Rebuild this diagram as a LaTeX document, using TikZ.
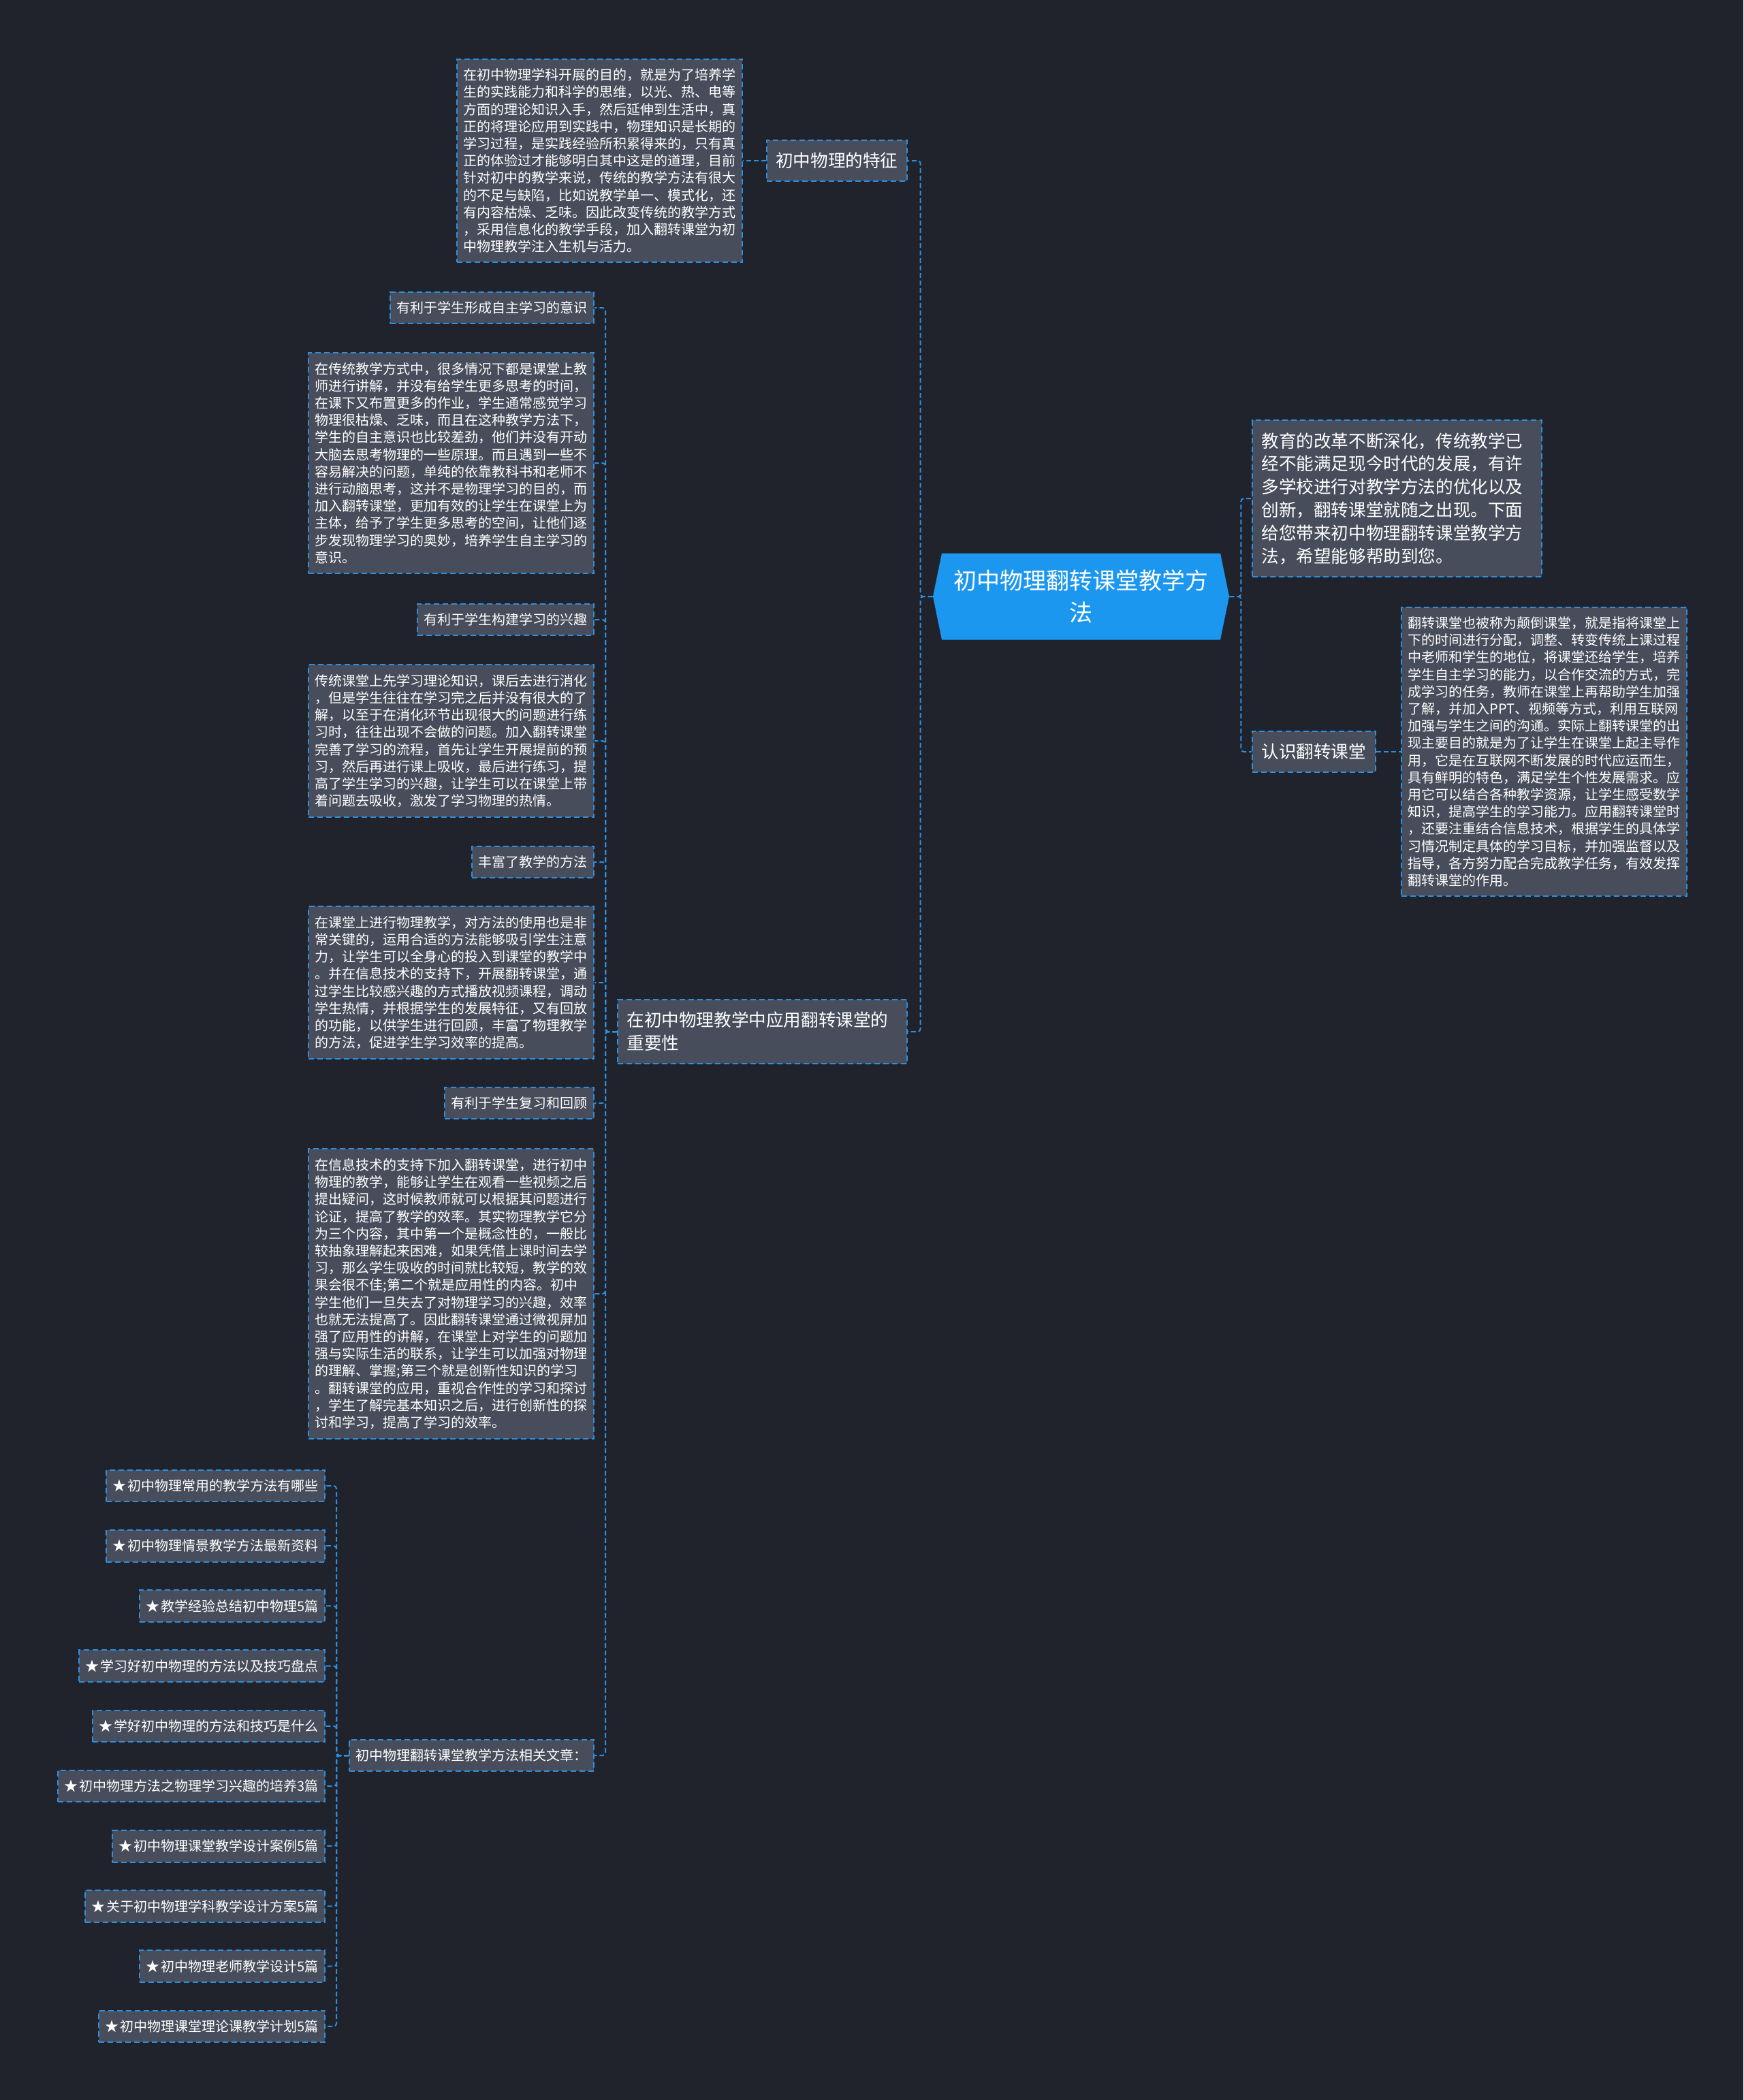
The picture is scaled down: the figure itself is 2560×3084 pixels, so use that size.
\documentclass[tikz,border=0pt]{standalone}
\usepackage{fontspec}
\setmainfont{Noto Sans CJK SC}
\usepackage{xcolor}
\usepackage{tikz}
\usetikzlibrary{positioning}

\definecolor{bgdark}{HTML}{20232C}
\definecolor{boxgray}{HTML}{474D5B}
\definecolor{dashblue}{HTML}{2D8FE0}
\definecolor{rootblue}{HTML}{1C97F0}

\begin{document}
\begin{tikzpicture}[
    x=0.5pt, y=-0.5pt,
    leaf/.style={draw=dashblue, fill=boxgray, line width=1pt, dash pattern=on 4pt off 2.5pt,
        text=white, inner xsep=4.75pt, inner ysep=7pt, font=\fontsize{10}{12.6}\selectfont},
    note/.style={leaf, text width=200pt, align=left},
    topic/.style={leaf, inner xsep=6.75pt, inner ysep=9pt, font=\fontsize{12.8}{16.9}\selectfont},
    topicnote/.style={topic, text width=199pt, align=left},
    mainbox/.style={fill=bgdark, minimum width=217.5pt, minimum height=63.5pt, inner sep=0pt,
        align=center, text=white, font=\fontsize{17}{23.5}\selectfont,
        path picture={\fill[rootblue] ([xshift=6.5pt]path picture bounding box.north west)
            -- ([xshift=-6.5pt]path picture bounding box.north east) -- (path picture bounding box.east)
            -- ([xshift=-6.5pt]path picture bounding box.south east)
            -- ([xshift=6.5pt]path picture bounding box.south west) -- (path picture bounding box.west) -- cycle;}},
    conn/.style={draw=dashblue, line width=1pt, dash pattern=on 3.5pt off 2pt, rounded corners=2pt}
]
\useasboundingbox (0,0) rectangle (2560,3084);
\fill[bgdark] (0,0) rectangle (2560,3084);

\node[mainbox] (root) at (1587.5,876) {初中物理翻转课堂教学方\\法};

\node[topicnote, anchor=west] (intro) at (1838,732) {教育的改革不断深化，传统教学已\\
经不能满足现今时代的发展，有许\\
多学校进行对教学方法的优化以及\\
创新，翻转课堂就随之出现。下面\\
给您带来初中物理翻转课堂教学方\\
法，希望能够帮助到您。};
\node[topic, anchor=west] (know) at (1838,1104) {认识翻转课堂};
\node[note, anchor=west] (detail) at (2057,1104) {翻转课堂也被称为颠倒课堂，就是指将课堂上\\
下的时间进行分配，调整、转变传统上课过程\\
中老师和学生的地位，将课堂还给学生，培养\\
学生自主学习的能力，以合作交流的方式，完\\
成学习的任务，教师在课堂上再帮助学生加强\\
了解，并加入PPT、视频等方式，利用互联网\\
加强与学生之间的沟通。实际上翻转课堂的出\\
现主要目的就是为了让学生在课堂上起主导作\\
用，它是在互联网不断发展的时代应运而生，\\
具有鲜明的特色，满足学生个性发展需求。应\\
用它可以结合各种教学资源，让学生感受数学\\
知识，提高学生的学习能力。应用翻转课堂时\\
，还要注重结合信息技术，根据学生的具体学\\
习情况制定具体的学习目标，并加强监督以及\\
指导，各方努力配合完成教学任务，有效发挥\\
翻转课堂的作用。};

\node[topic, anchor=east] (feature) at (1333,236) {初中物理的特征};
\node[note, anchor=east] (featnote) at (1091,236) {在初中物理学科开展的目的，就是为了培养学\\
生的实践能力和科学的思维，以光、热、电等\\
方面的理论知识入手，然后延伸到生活中，真\\
正的将理论应用到实践中，物理知识是长期的\\
学习过程，是实践经验所积累得来的，只有真\\
正的体验过才能够明白其中这是的道理，目前\\
针对初中的教学来说，传统的教学方法有很大\\
的不足与缺陷，比如说教学单一、模式化，还\\
有内容枯燥、乏味。因此改变传统的教学方式\\
，采用信息化的教学手段，加入翻转课堂为初\\
中物理教学注入生机与活力。};
\node[topicnote, anchor=east] (apply) at (1333,1515) {在初中物理教学中应用翻转课堂的\\重要性};

\node[leaf, anchor=east] (selfaware) at (873,452) {有利于学生形成自主学习的意识};
\node[note, anchor=east] (selfnote) at (873,680) {在传统教学方式中，很多情况下都是课堂上教\\
师进行讲解，并没有给学生更多思考的时间，\\
在课下又布置更多的作业，学生通常感觉学习\\
物理很枯燥、乏味，而且在这种教学方法下，\\
学生的自主意识也比较差劲，他们并没有开动\\
大脑去思考物理的一些原理。而且遇到一些不\\
容易解决的问题，单纯的依靠教科书和老师不\\
进行动脑思考，这并不是物理学习的目的，而\\
加入翻转课堂，更加有效的让学生在课堂上为\\
主体，给予了学生更多思考的空间，让他们逐\\
步发现物理学习的奥妙，培养学生自主学习的\\
意识。};
\node[leaf, anchor=east] (interest) at (873,910) {有利于学生构建学习的兴趣};
\node[note, anchor=east] (interestnote) at (873,1088) {传统课堂上先学习理论知识，课后去进行消化\\
，但是学生往往在学习完之后并没有很大的了\\
解，以至于在消化环节出现很大的问题进行练\\
习时，往往出现不会做的问题。加入翻转课堂\\
完善了学习的流程，首先让学生开展提前的预\\
习，然后再进行课上吸收，最后进行练习，提\\
高了学生学习的兴趣，让学生可以在课堂上带\\
着问题去吸收，激发了学习物理的热情。};
\node[leaf, anchor=east] (method) at (873,1266) {丰富了教学的方法};
\node[note, anchor=east] (methodnote) at (873,1443) {在课堂上进行物理教学，对方法的使用也是非\\
常关键的，运用合适的方法能够吸引学生注意\\
力，让学生可以全身心的投入到课堂的教学中\\
。并在信息技术的支持下，开展翻转课堂，通\\
过学生比较感兴趣的方式播放视频课程，调动\\
学生热情，并根据学生的发展特征，又有回放\\
的功能，以供学生进行回顾，丰富了物理教学\\
的方法，促进学生学习效率的提高。};
\node[leaf, anchor=east] (review) at (873,1620) {有利于学生复习和回顾};
\node[note, anchor=east] (reviewnote) at (873,1900) {在信息技术的支持下加入翻转课堂，进行初中\\
物理的教学，能够让学生在观看一些视频之后\\
提出疑问，这时候教师就可以根据其问题进行\\
论证，提高了教学的效率。其实物理教学它分\\
为三个内容，其中第一个是概念性的，一般比\\
较抽象理解起来困难，如果凭借上课时间去学\\
习，那么学生吸收的时间就比较短，教学的效\\
果会很不佳;第二个就是应用性的内容。初中\\
学生他们一旦失去了对物理学习的兴趣，效率\\
也就无法提高了。因此翻转课堂通过微视屏加\\
强了应用性的讲解，在课堂上对学生的问题加\\
强与实际生活的联系，让学生可以加强对物理\\
的理解、掌握;第三个就是创新性知识的学习\\
。翻转课堂的应用，重视合作性的学习和探讨\\
，学生了解完基本知识之后，进行创新性的探\\
讨和学习，提高了学习的效率。};
\node[leaf, anchor=east] (related) at (873,2578) {初中物理翻转课堂教学方法相关文章：};

\foreach \t [count=\i] in {初中物理常用的教学方法有哪些,初中物理情景教学方法最新资料,教学经验总结初中物理5篇,学习好初中物理的方法以及技巧盘点,学好初中物理的方法和技巧是什么,初中物理方法之物理学习兴趣的培养3篇,初中物理课堂教学设计案例5篇,关于初中物理学科教学设计方案5篇,初中物理老师教学设计5篇,初中物理课堂理论课教学计划5篇}
    \node[leaf, anchor=east] (art\i) at (478,{2182+88.2*(\i-1)}) {★\hspace{1pt}\t};

\draw[conn] (root.west) -- ++(-18,0) |- (feature.east);
\draw[conn] (root.west) -- ++(-18,0) |- (apply.east);
\draw[conn] (feature.west) -- (featnote.east);
\draw[conn] (root.east) -- ++(17,0) |- (intro.west);
\draw[conn] (root.east) -- ++(17,0) |- (know.west);
\draw[conn] (know.east) -- (detail.west);
\foreach \n in {selfaware,selfnote,interest,interestnote,method,methodnote,review,reviewnote,related}
    \draw[conn] (apply.west) -- ++(-17,0) |- (\n.east);
\foreach \i in {1,...,10} \draw[conn] (related.west) -- ++(-18,0) |- (art\i.east);
\end{tikzpicture}
\end{document}
